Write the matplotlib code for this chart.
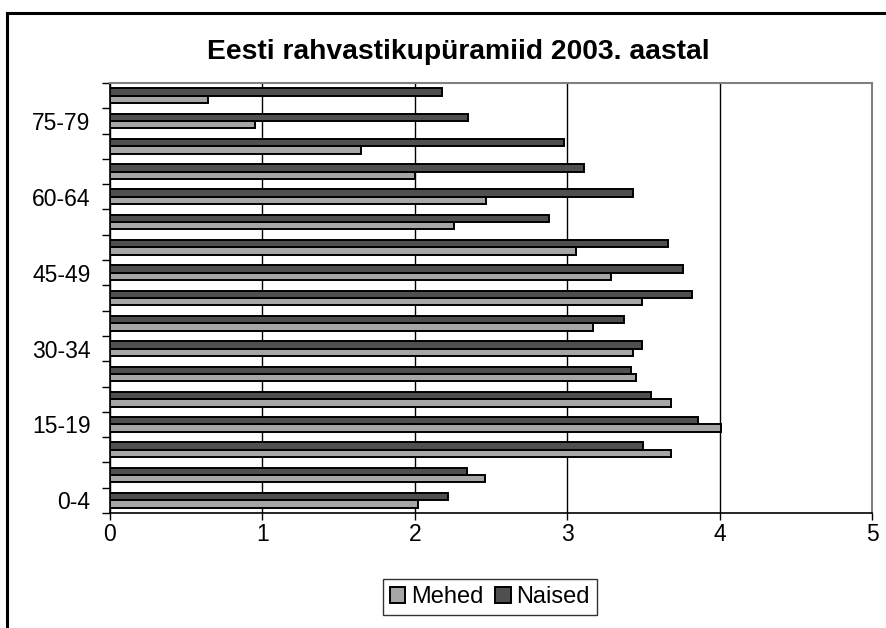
import matplotlib.pyplot as plt
import numpy as np
from matplotlib.lines import Line2D

plt.rcParams['font.family'] = ['Liberation Sans', 'DejaVu Sans']

age_groups = ['0-4', '5-9', '10-14', '15-19', '20-24', '25-29', '30-34', '35-39',
              '40-44', '45-49', '50-54', '55-59', '60-64', '65-69', '70-74', '75-79', '80-84']
mehed = [2.02, 2.46, 3.68, 4.01, 3.68, 3.45, 3.43, 3.17, 3.49, 3.29, 3.06, 2.26,
         2.47, 2.00, 1.65, 0.95, 0.64]
naised = [2.22, 2.34, 3.50, 3.86, 3.55, 3.42, 3.49, 3.37, 3.82, 3.76, 3.66, 2.88,
          3.43, 3.11, 2.98, 2.35, 2.18]
shown_labels = ['0-4', '15-19', '30-34', '45-49', '60-64', '75-79']
x_ticks = [0, 1, 2, 3, 4, 5]

W, H = 886, 628
fig = plt.figure(figsize=(W / 100, H / 100), dpi=100)

# outer chart frame (runs off the right and bottom edge)
fig.add_artist(Line2D([7 / W, 7 / W], [0, 1 - 13 / H], color='black', lw=2.2,
                      transform=fig.transFigure))
fig.add_artist(Line2D([7 / W, 1], [1 - 13 / H, 1 - 13 / H], color='black', lw=2.2,
                      transform=fig.transFigure))

ax = fig.add_axes([110 / W, (H - 513) / H, 762 / W, 430 / H])

y = np.arange(len(age_groups))
h = 0.29
ax.barh(y - h / 2, mehed, height=h, color='#a6a6a6', edgecolor='black', lw=1.4,
        label='Mehed', zorder=3)
ax.barh(y + h / 2, naised, height=h, color='#4f4f4f', edgecolor='black', lw=1.4,
        label='Naised', zorder=3)

ax.set_xlim(0, 5)
ax.set_ylim(-0.5, len(age_groups) - 0.5)

ax.set_xticks(x_ticks)
ax.set_xticklabels([str(v) for v in x_ticks], fontsize=16.5)
ax.tick_params(axis='x', direction='out', length=5, width=1, pad=2)
ax.grid(axis='x', color='black', lw=1, zorder=0)

# tick marks between categories, labels on every third group
ax.set_yticks(np.arange(-0.5, len(age_groups), 1))
ax.set_yticklabels([])
ax.tick_params(axis='y', which='major', direction='out', length=6, width=1)
ax.set_yticks([age_groups.index(s) for s in shown_labels], minor=True)
ax.set_yticklabels(shown_labels, minor=True, fontsize=16.5)
ax.tick_params(axis='y', which='minor', length=0, pad=14)

for side in ['top', 'right']:
    ax.spines[side].set_color('#808080')
    ax.spines[side].set_linewidth(1.5)
for side in ['left', 'bottom']:
    ax.spines[side].set_color('black')
    ax.spines[side].set_linewidth(1.2)

fig.text(458 / W, 1 - 52 / H, 'Eesti rahvastikupüramiid 2003. aastal', ha='center',
         va='center', fontsize=20.3, fontweight='bold')

leg = fig.legend(loc='center', bbox_to_anchor=(490 / W, 1 - 597 / H), ncol=2, fontsize=17,
                 frameon=True, fancybox=False, handlelength=0.65, handleheight=0.65,
                 handletextpad=0.25, columnspacing=0.5, borderpad=0.3, borderaxespad=0)
leg.get_frame().set_edgecolor('black')
leg.get_frame().set_linewidth(1)

fig.savefig('out.png', dpi=100)
